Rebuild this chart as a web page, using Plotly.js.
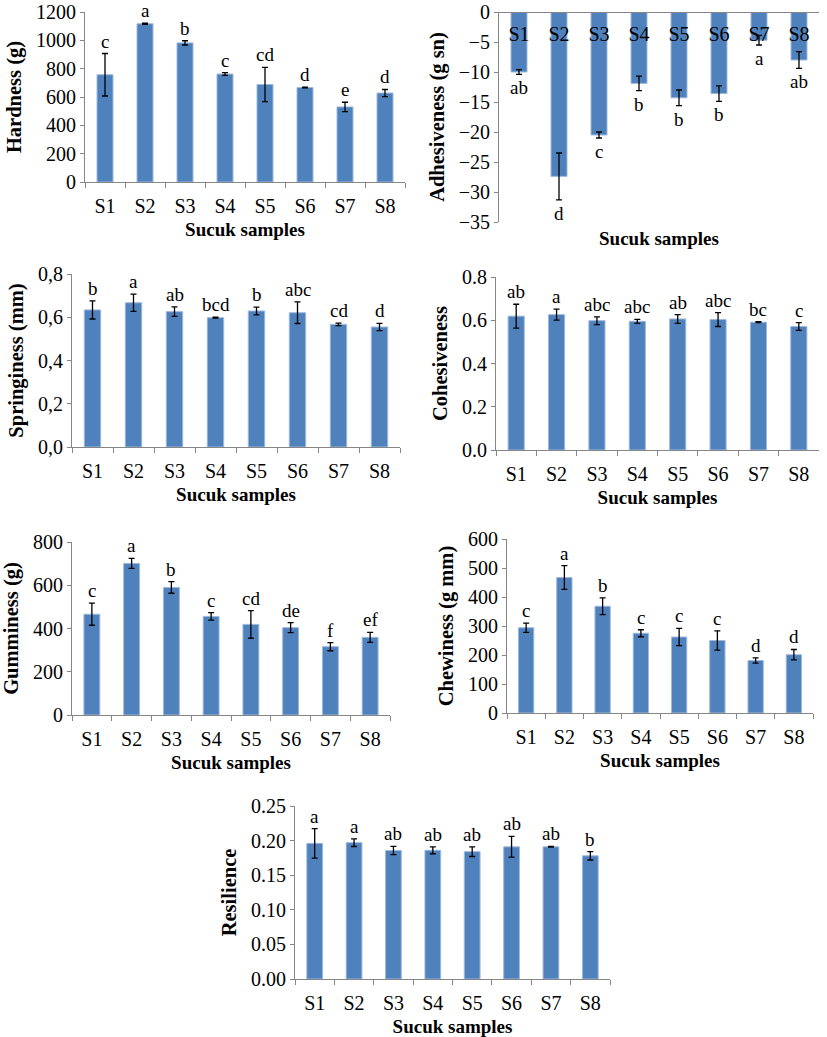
<!DOCTYPE html>
<html>
<head>
<meta charset="utf-8">
<script src="https://cdn.plot.ly/plotly-3.0.1.min.js"></script>
<style>html,body{margin:0;padding:0;background:#fff}#chart{width:827px;height:1037px}</style>
</head>
<body>
<div id="chart"></div>
<script>
const samples = ['S1','S2','S3','S4','S5','S6','S7','S8'];

const hardness = [757, 1117, 982, 762, 688, 667, 530, 628];
const hardnessErr = [150, 5, 15, 10, 121, 2, 33, 25];
const hardnessLetters = ['c','a','b','c','cd','d','e','d'];

const adhesiveness = [-10.0, -27.4, -20.5, -11.9, -14.3, -13.6, -4.7, -8.0];
const adhesivenessErr = [0.4, 3.9, 0.5, 1.2, 1.3, 1.3, 0.8, 1.4];
const adhesivenessLetters = ['ab','d','c','b','b','b','a','ab'];

const springiness = [0.634, 0.667, 0.626, 0.598, 0.629, 0.621, 0.567, 0.555];
const springinessErr = [0.042, 0.040, 0.022, 0.002, 0.018, 0.050, 0.006, 0.017];
const springinessLetters = ['b','a','ab','bcd','b','abc','cd','d'];

const cohesiveness = [0.619, 0.626, 0.598, 0.595, 0.606, 0.603, 0.591, 0.571];
const cohesivenessErr = [0.055, 0.025, 0.018, 0.009, 0.020, 0.032, 0.002, 0.018];
const cohesivenessLetters = ['ab','a','abc','abc','ab','abc','bc','c'];

const gumminess = [466, 701, 590, 456, 419, 404, 316, 359];
const gumminessErr = [51, 23, 27, 17, 64, 23, 19, 23];
const gumminessLetters = ['c','a','b','c','cd','de','f','ef'];

const chewiness = [294, 467, 368, 275, 262, 250, 181, 201];
const chewinessErr = [16, 41, 29, 12, 30, 33, 9, 18];
const chewinessLetters = ['c','a','b','c','c','c','d','d'];

const resilience = [0.196, 0.197, 0.1856, 0.186, 0.184, 0.191, 0.191, 0.178];
const resilienceErr = [0.0214, 0.0055, 0.006, 0.005, 0.007, 0.015, 0.0005, 0.006];
const resilienceLetters = ['a','a','ab','ab','ab','ab','ab','b'];

const springTicks = [0, 0.2, 0.4, 0.6, 0.8];
const springTickText = ['0,0','0,2','0,4','0,6','0,8'];

const FONT = 'Liberation Serif';
const W = 827, H = 1037;
const BAR = '#4F81BD', BARLINE = '#9DB9DC', AXC = '#868686';

// panel boxes in pixels: [left, right, top, bottom]
const boxes = [
  [85, 405, 12, 182],
  [499, 819, 12, 222],
  [72, 400, 274, 447],
  [496, 819, 277, 450],
  [72, 390, 542, 715],
  [507, 813, 539, 713],
  [295, 610, 806, 979]
];

const panels = [
  {y: hardness, e: hardnessErr, L: hardnessLetters, title: 'Hardness (g)', range: [0, 1200], dtick: 200},
  {y: adhesiveness, e: adhesivenessErr, L: adhesivenessLetters, title: 'Adhesiveness (g sn)', range: [-35, 0], dtick: 5, neg: true},
  {y: springiness, e: springinessErr, L: springinessLetters, title: 'Springiness (mm)', range: [0, 0.8], tickvals: springTicks, ticktext: springTickText},
  {y: cohesiveness, e: cohesivenessErr, L: cohesivenessLetters, title: 'Cohesiveness', range: [0, 0.8], dtick: 0.2, fmt: '.1f'},
  {y: gumminess, e: gumminessErr, L: gumminessLetters, title: 'Gumminess (g)', range: [0, 800], dtick: 200},
  {y: chewiness, e: chewinessErr, L: chewinessLetters, title: 'Chewiness (g mm)', range: [0, 600], dtick: 100},
  {y: resilience, e: resilienceErr, L: resilienceLetters, title: 'Resilience', range: [0, 0.25], dtick: 0.05, fmt: '.2f'}
];

const data = [];
const layout = {
  width: W, height: H,
  margin: {l: 0, r: 0, t: 0, b: 0},
  paper_bgcolor: '#fff', plot_bgcolor: '#fff',
  showlegend: false,
  bargap: 0.6,
  font: {family: FONT, size: 20, color: '#000'},
  annotations: []
};

panels.forEach((p, i) => {
  const n = i + 1;
  const xs = n === 1 ? '' : String(n);
  const b = boxes[i];
  const xd = [b[0] / W, b[1] / W];
  const yd = [1 - b[3] / H, 1 - b[2] / H];
  data.push({
    type: 'bar', x: samples, y: p.y,
    xaxis: 'x' + xs, yaxis: 'y' + xs,
    marker: {color: BAR, line: {color: BARLINE, width: 1}},
    error_y: {type: 'data', array: p.e, visible: true, color: '#000', thickness: 1.3, width: 3},
    hoverinfo: 'x+y'
  });
  const xa = {
    domain: xd, type: 'category', anchor: 'y' + xs,
    showline: true, linecolor: AXC, linewidth: 1,
    ticks: 'outside', tickson: 'boundaries', ticklen: 5, tickcolor: AXC,
    ticklabelstandoff: 6,
    showgrid: false, zeroline: false, fixedrange: true
  };
  const ya = {
    domain: yd, anchor: 'x' + xs, range: p.range,
    showline: true, linecolor: AXC, linewidth: 1,
    ticks: 'outside', ticklen: 4, tickcolor: AXC,
    ticklabeloverflow: 'allow',
    showgrid: false, zeroline: false, fixedrange: true,
    title: {text: '<b>' + p.title + '</b>', font: {family: FONT, size: 20.5, color: '#000'}, standoff: 8}
  };
  if (p.tickvals) { ya.tickmode = 'array'; ya.tickvals = p.tickvals; ya.ticktext = p.ticktext; }
  else { ya.dtick = p.dtick; ya.tick0 = 0; }
  if (p.fmt) ya.tickformat = p.fmt;
  if (p.neg) {
    xa.anchor = 'free';
    xa.position = yd[1];
    xa.side = 'bottom';
    xa.ticks = '';
    xa.ticklabelstandoff = 4;
    layout.annotations.push({
      xref: 'paper', yref: 'paper', x: (xd[0] + xd[1]) / 2, y: 1 - 238 / H,
      text: '<b>Sucuk samples</b>', showarrow: false, xanchor: 'center', yanchor: 'middle',
      font: {family: FONT, size: 19, color: '#000'}
    });
  } else {
    xa.title = {text: '<b>Sucuk samples</b>', font: {family: FONT, size: 19, color: '#000'}, standoff: 6};
  }
  layout['xaxis' + xs] = xa;
  layout['yaxis' + xs] = ya;
  samples.forEach((s, k) => {
    const top = p.neg ? p.y[k] - p.e[k] : p.y[k] + p.e[k];
    layout.annotations.push({
      xref: 'x' + xs, yref: 'y' + xs, x: s, y: top,
      text: p.L[k], showarrow: false,
      xanchor: 'center', yanchor: p.neg ? 'top' : 'bottom',
      yshift: p.neg ? -1 : 0,
      font: {family: FONT, size: 19, color: '#000'}
    });
  });
});

Plotly.newPlot('chart', data, layout, {displayModeBar: false});
</script>
</body>
</html>
